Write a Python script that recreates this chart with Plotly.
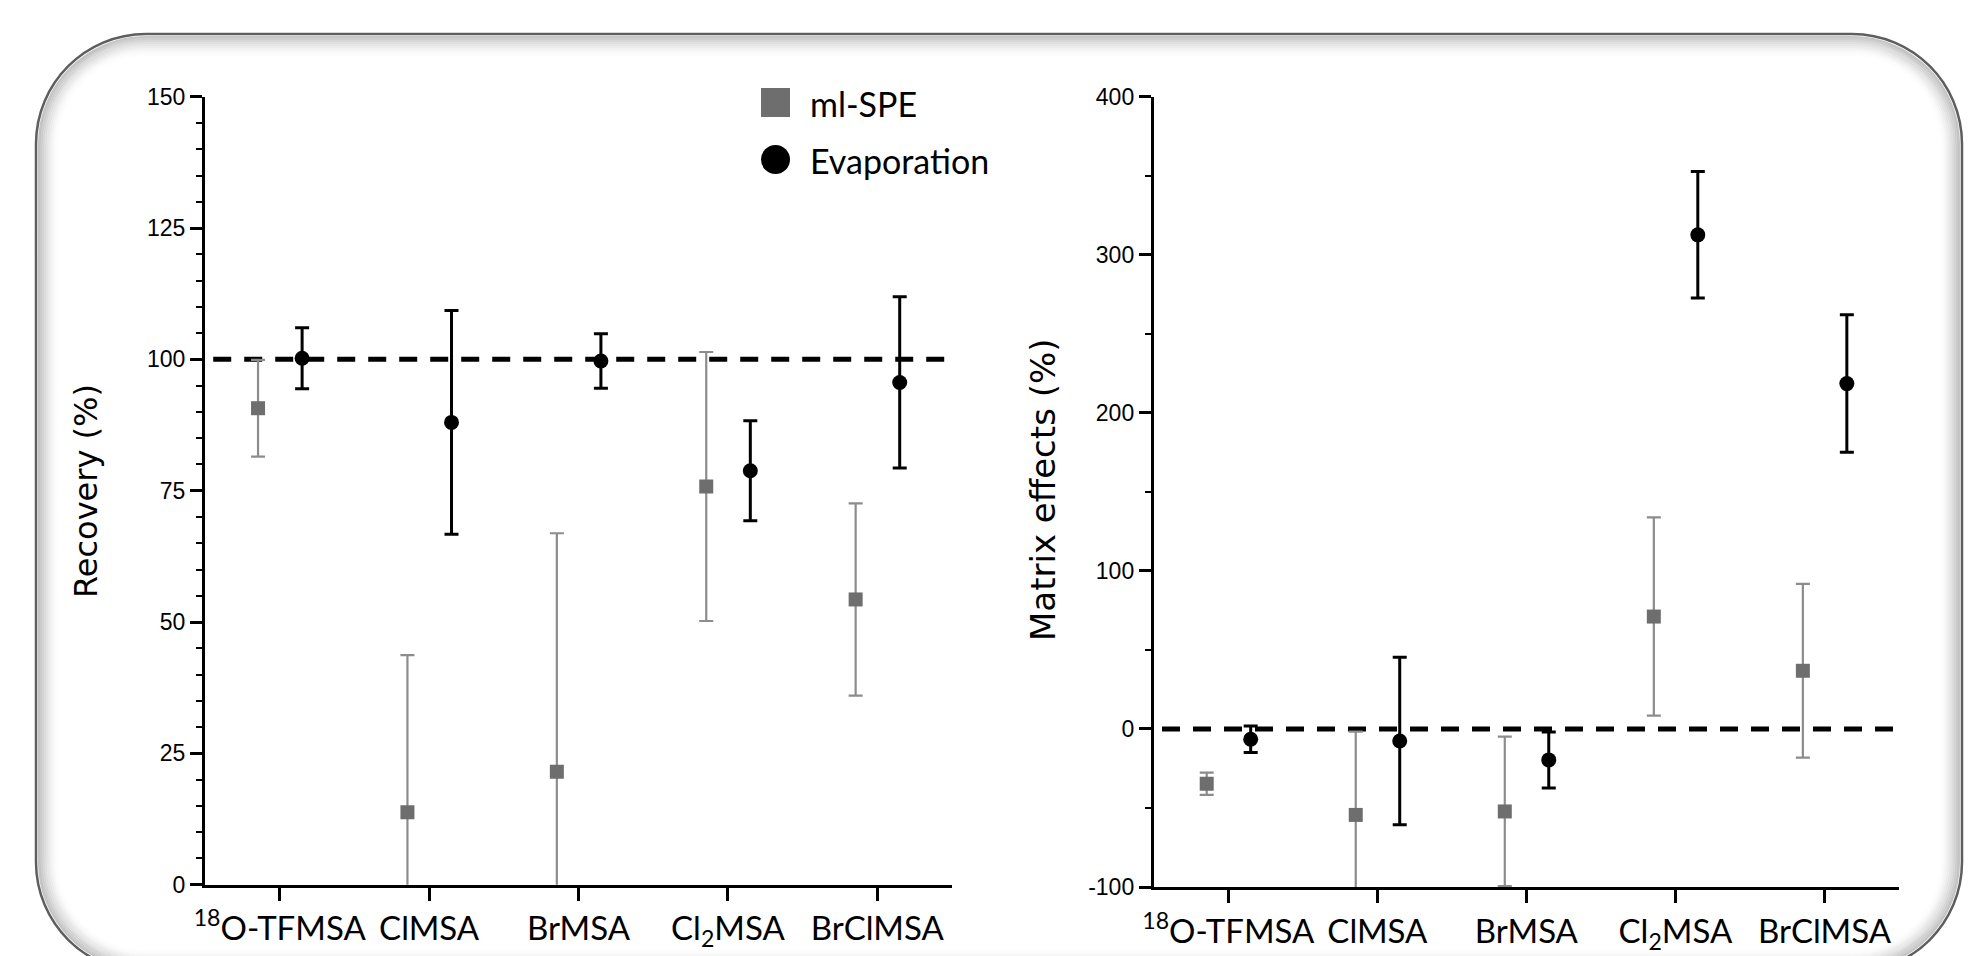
import plotly.graph_objects as go

# ---------------- data ----------------
categories = ["<sup>18</sup>O-TFMSA", "ClMSA", "BrMSA", "Cl<sub>2</sub>MSA", "BrClMSA"]

recovery_spe = [90.7, 13.8, 21.5, 75.8, 54.3]
recovery_spe_err = [9.2, 29.9, 45.4, 25.6, 18.3]
recovery_evap = [100.2, 88.0, 99.7, 78.8, 95.6]
recovery_evap_err = [5.8, 21.3, 5.2, 9.5, 16.3]

matrix_spe = [-34.7, -54.4, -52.2, 71.1, 36.8]
matrix_spe_err = [7.0, 52.7, 47.3, 62.7, 55.0]
matrix_evap = [-6.5, -7.6, -19.6, 312.6, 218.5]
matrix_evap_err = [8.4, 53.0, 17.7, 40.0, 43.5]

recovery_ref = 100
matrix_ref = 0

recovery_ticks = [0, 25, 50, 75, 100, 125, 150]
matrix_ticks = [-100, 0, 100, 200, 300, 400]
series_names = ["ml-SPE", "Evaporation"]

# ---------------- layout helpers ----------------
W, H = 1972, 956
def px(x):
    return x / W
def py(y):
    return 1 - y / H

idx = list(range(len(categories)))
x_spe = [i - 0.145 for i in idx]
x_evap = [i + 0.15 for i in idx]

SPE_MARK = "#6e6e6e"
SPE_ERR = "#8c8c8c"
EVAP = "#000000"

fig = go.Figure()

for (xa, ya, spe, spe_e, ev, ev_e) in [
    ("x", "y", recovery_spe, recovery_spe_err, recovery_evap, recovery_evap_err),
    ("x2", "y2", matrix_spe, matrix_spe_err, matrix_evap, matrix_evap_err),
]:
    fig.add_trace(go.Scatter(
        x=x_spe, y=spe, mode="markers", name=series_names[0],
        marker=dict(symbol="square", size=14, color=SPE_MARK),
        error_y=dict(type="data", array=spe_e, color=SPE_ERR, thickness=2.2, width=7),
        xaxis=xa, yaxis=ya, showlegend=False))
    fig.add_trace(go.Scatter(
        x=x_evap, y=ev, mode="markers", name=series_names[1],
        marker=dict(symbol="circle", size=15, color=EVAP),
        error_y=dict(type="data", array=ev_e, color=EVAP, thickness=3, width=7),
        xaxis=xa, yaxis=ya, showlegend=False))

xcommon = dict(range=[-0.5, 4.5], tickmode="array", tickvals=idx, ticktext=categories,
               ticks="outside", ticklen=13, tickwidth=2.5, tickcolor="black",
               showline=True, linecolor="black", linewidth=3,
               showgrid=False, zeroline=False, automargin=False,
               tickfont=dict(family="Lato, sans-serif", size=33, color="black"))
ycommon = dict(ticks="outside", ticklen=12, tickwidth=2.5, tickcolor="black",
               showline=True, linecolor="black", linewidth=3,
               showgrid=False, zeroline=False, automargin=False,
               tickfont=dict(family="Liberation Sans, Arial, sans-serif", size=23, color="black"))

fig.update_layout(
    width=W, height=H, autosize=False,
    margin=dict(l=0, r=0, t=0, b=0, pad=0, autoexpand=False),
    paper_bgcolor="white", plot_bgcolor="rgba(0,0,0,0)",
    showlegend=False,
    xaxis=dict(domain=[px(205), px(952)], anchor="y", **xcommon),
    yaxis=dict(domain=[py(884.7), py(96.7)], anchor="x", range=[0, 150],
               tickmode="array", tickvals=recovery_ticks,
               ticktext=[str(v) for v in recovery_ticks],
               minor=dict(dtick=5, tick0=0, ticks="outside", ticklen=6, tickwidth=2, tickcolor="black"),
               **ycommon),
    xaxis2=dict(domain=[px(1153.8), px(1899)], anchor="y2", **xcommon),
    yaxis2=dict(domain=[py(887), py(96.7)], anchor="x2", range=[-100, 400],
                tickmode="array", tickvals=matrix_ticks,
                ticktext=[str(v) for v in matrix_ticks],
                minor=dict(dtick=50, tick0=0, ticks="outside", ticklen=6, tickwidth=2, tickcolor="black"),
                **ycommon),
)

shapes = []
# reference dashed lines
shapes.append(dict(type="line", xref="x domain", yref="y", x0=0.011, x1=0.99,
                   y0=recovery_ref, y1=recovery_ref, layer="below",
                   line=dict(color="black", width=5, dash="18px,13px")))
shapes.append(dict(type="line", xref="x2 domain", yref="y2", x0=0.011, x1=0.996,
                   y0=matrix_ref, y1=matrix_ref, layer="below",
                   line=dict(color="black", width=5, dash="18px,13px")))

# rounded frame with inner shadow
def rrect(x0, y0, x1, y1, r):
    k = 0.5523 * r
    pts = [
        f"M{px(x0 + r)},{py(y0)}",
        f"L{px(x1 - r)},{py(y0)}",
        f"C{px(x1 - r + k)},{py(y0)} {px(x1)},{py(y0 + r - k)} {px(x1)},{py(y0 + r)}",
        f"L{px(x1)},{py(y1 - r)}",
        f"C{px(x1)},{py(y1 - r + k)} {px(x1 - r + k)},{py(y1)} {px(x1 - r)},{py(y1)}",
        f"L{px(x0 + r)},{py(y1)}",
        f"C{px(x0 + r - k)},{py(y1)} {px(x0)},{py(y1 - r + k)} {px(x0)},{py(y1 - r)}",
        f"L{px(x0)},{py(y0 + r)}",
        f"C{px(x0)},{py(y0 + r - k)} {px(x0 + r - k)},{py(y0)} {px(x0 + r)},{py(y0)}",
        "Z",
    ]
    return " ".join(pts)

FX0, FY0, FX1, FY1, FR = 36, 34, 1962, 972, 110
for i in range(1, 11):
    ins = 1.0 + i * 2.0
    a = 0.26 * (1 - i / 11.0) ** 1.6
    shapes.append(dict(type="path", xref="paper", yref="paper",
                       path=rrect(FX0 + ins, FY0 + ins, FX1 - ins, FY1 - ins, FR - ins),
                       line=dict(color=f"rgba(0,0,0,{a:.3f})", width=2.2), layer="below"))
shapes.append(dict(type="path", xref="paper", yref="paper",
                   path=rrect(FX0, FY0, FX1, FY1, FR),
                   line=dict(color="#5e5e5e", width=2.5), layer="below"))

# legend symbols
shapes.append(dict(type="rect", xref="paper", yref="paper",
                   x0=px(761), x1=px(790), y0=py(117), y1=py(88),
                   fillcolor=SPE_MARK, line=dict(width=0)))
shapes.append(dict(type="circle", xref="paper", yref="paper",
                   x0=px(761), x1=px(790), y0=py(174), y1=py(145),
                   fillcolor=EVAP, line=dict(width=0)))
fig.update_layout(shapes=shapes)

annotations = [
    dict(text=series_names[0], x=px(808), y=py(104), xref="paper", yref="paper",
         xanchor="left", yanchor="middle", showarrow=False,
         font=dict(family="Lato, sans-serif", size=34, color="black")),
    dict(text=series_names[1], x=px(808), y=py(161), xref="paper", yref="paper",
         xanchor="left", yanchor="middle", showarrow=False,
         font=dict(family="Lato, sans-serif", size=34, color="black")),
    dict(text="Recovery (%)", x=px(86), y=py(491), xref="paper", yref="paper",
         xanchor="center", yanchor="middle", textangle=-90, showarrow=False,
         font=dict(family="DejaVu Sans, sans-serif", size=32, color="black")),
    dict(text="Matrix effects (%)", x=px(1043), y=py(490), xref="paper", yref="paper",
         xanchor="center", yanchor="middle", textangle=-90, showarrow=False,
         font=dict(family="DejaVu Sans, sans-serif", size=34, color="black")),
]
fig.update_layout(annotations=annotations)

fig.write_html("out.html",
               config={"displayModeBar": False},
               post_script="document.body.style.margin='0px';document.body.style.overflow='hidden';")
